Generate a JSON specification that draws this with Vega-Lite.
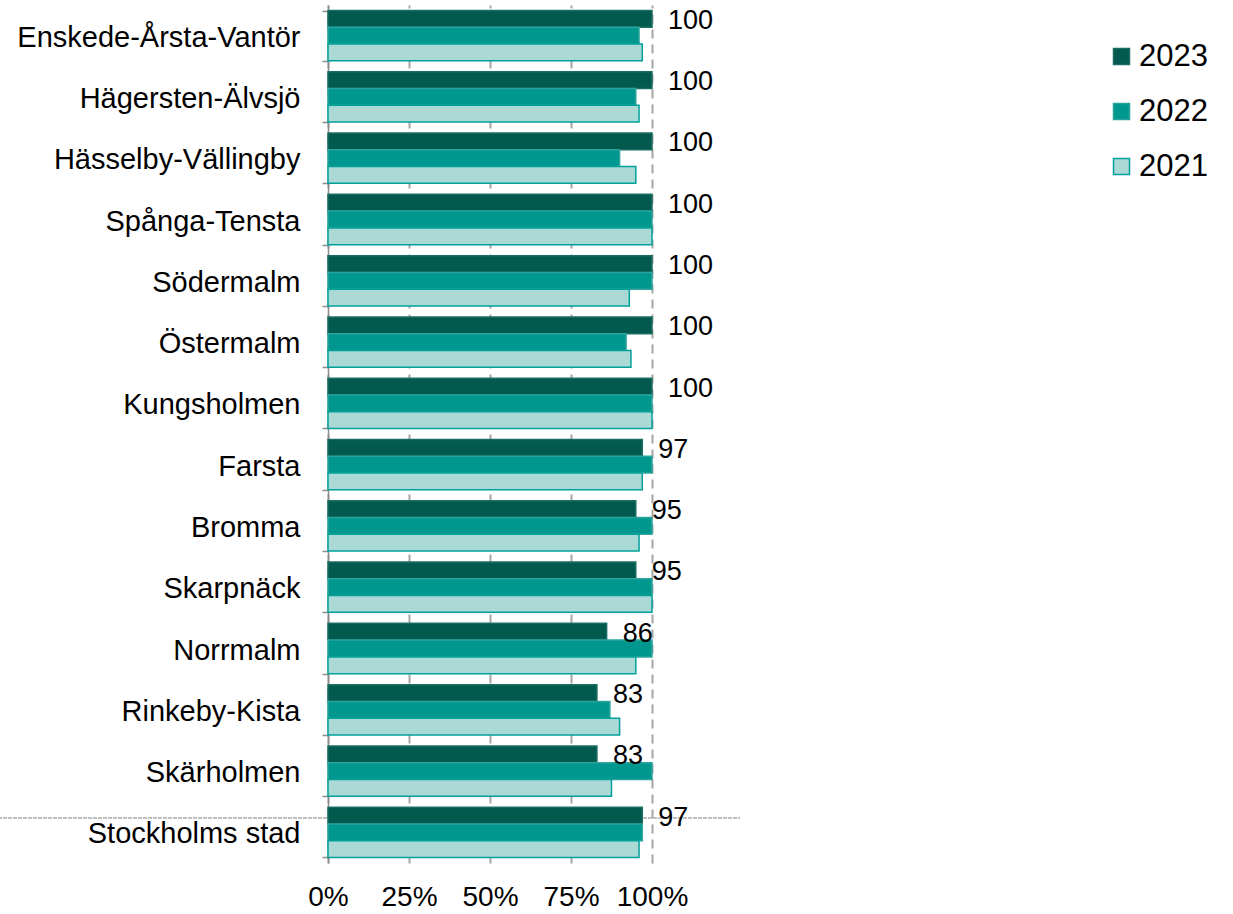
{
  "$schema": "https://vega.github.io/schema/vega-lite/v6.json",
  "autosize": {"type": "none"},
  "padding": {"left": 328, "top": 5, "right": 581, "bottom": 51},
  "width": 324,
  "height": 858,
  "background": "white",
  "config": {
    "view": {"stroke": null},
    "font": "Liberation Sans"
  },
  "data": {
    "values": [
      {"district": "Enskede-Årsta-Vantör", "year": "2023", "value": 100},
      {"district": "Enskede-Årsta-Vantör", "year": "2022", "value": 96},
      {"district": "Enskede-Årsta-Vantör", "year": "2021", "value": 97},
      {"district": "Hägersten-Älvsjö", "year": "2023", "value": 100},
      {"district": "Hägersten-Älvsjö", "year": "2022", "value": 95},
      {"district": "Hägersten-Älvsjö", "year": "2021", "value": 96},
      {"district": "Hässelby-Vällingby", "year": "2023", "value": 100},
      {"district": "Hässelby-Vällingby", "year": "2022", "value": 90},
      {"district": "Hässelby-Vällingby", "year": "2021", "value": 95},
      {"district": "Spånga-Tensta", "year": "2023", "value": 100},
      {"district": "Spånga-Tensta", "year": "2022", "value": 100},
      {"district": "Spånga-Tensta", "year": "2021", "value": 100},
      {"district": "Södermalm", "year": "2023", "value": 100},
      {"district": "Södermalm", "year": "2022", "value": 100},
      {"district": "Södermalm", "year": "2021", "value": 93},
      {"district": "Östermalm", "year": "2023", "value": 100},
      {"district": "Östermalm", "year": "2022", "value": 92},
      {"district": "Östermalm", "year": "2021", "value": 93.5},
      {"district": "Kungsholmen", "year": "2023", "value": 100},
      {"district": "Kungsholmen", "year": "2022", "value": 100},
      {"district": "Kungsholmen", "year": "2021", "value": 100},
      {"district": "Farsta", "year": "2023", "value": 97},
      {"district": "Farsta", "year": "2022", "value": 100},
      {"district": "Farsta", "year": "2021", "value": 97},
      {"district": "Bromma", "year": "2023", "value": 95},
      {"district": "Bromma", "year": "2022", "value": 100},
      {"district": "Bromma", "year": "2021", "value": 96},
      {"district": "Skarpnäck", "year": "2023", "value": 95},
      {"district": "Skarpnäck", "year": "2022", "value": 100},
      {"district": "Skarpnäck", "year": "2021", "value": 100},
      {"district": "Norrmalm", "year": "2023", "value": 86},
      {"district": "Norrmalm", "year": "2022", "value": 100},
      {"district": "Norrmalm", "year": "2021", "value": 95},
      {"district": "Rinkeby-Kista", "year": "2023", "value": 83},
      {"district": "Rinkeby-Kista", "year": "2022", "value": 87},
      {"district": "Rinkeby-Kista", "year": "2021", "value": 90},
      {"district": "Skärholmen", "year": "2023", "value": 83},
      {"district": "Skärholmen", "year": "2022", "value": 100},
      {"district": "Skärholmen", "year": "2021", "value": 87.5},
      {"district": "Stockholms stad", "year": "2023", "value": 97},
      {"district": "Stockholms stad", "year": "2022", "value": 97},
      {"district": "Stockholms stad", "year": "2021", "value": 96}
    ]
  },
  "encoding": {
    "y": {
      "field": "district",
      "type": "nominal",
      "sort": null,
      "title": null,
      "scale": {
        "domain": ["Enskede-Årsta-Vantör", "Hägersten-Älvsjö", "Hässelby-Vällingby", "Spånga-Tensta", "Södermalm", "Östermalm", "Kungsholmen", "Farsta", "Bromma", "Skarpnäck", "Norrmalm", "Rinkeby-Kista", "Skärholmen", "Stockholms stad"],
        "paddingInner": 0.18,
        "paddingOuter": 0.09
      },
      "axis": {
        "tickBand": "extent",
        "tickSize": 6,
        "tickColor": "#8c8c8c",
        "tickWidth": 1.5,
        "domainColor": "#8c8c8c",
        "domainWidth": 1.5,
        "labelFontSize": 29,
        "labelColor": "#000000",
        "labelPadding": 22,
        "labelLimit": 400,
        "labelOffset": 1.5,
        "grid": false
      }
    }
  },
  "layer": [
    {
      "mark": {"type": "rule", "color": "#bdbdbd", "strokeWidth": 1, "strokeDash": [1, 1.5]},
      "encoding": {
        "y": {"datum": "Stockholms stad", "bandPosition": 0.21},
        "x": {"datum": -101, "type": "quantitative"},
        "x2": {"datum": 127}
      }
    },
    {
      "mark": {"type": "bar", "strokeWidth": 1.5},
      "encoding": {
        "x": {
          "field": "value",
          "type": "quantitative",
          "title": null,
          "scale": {"domain": [0, 100], "nice": false, "zero": true},
          "axis": {
            "values": [0, 25, 50, 75, 100],
            "labelExpr": "datum.value + '%'",
            "domain": false,
            "ticks": false,
            "grid": true,
            "gridColor": "#a6a6a6",
            "gridWidth": 2,
            "gridDash": [9, 6],
            "labelFontSize": 28,
            "labelColor": "#000000",
            "labelPadding": 20,
            "labelFlush": false
          }
        },
        "yOffset": {
          "field": "year",
          "type": "nominal",
          "sort": ["2023", "2022", "2021"],
          "scale": {"paddingInner": 0, "paddingOuter": 0}
        },
        "color": {
          "field": "year",
          "type": "nominal",
          "sort": ["2023", "2022", "2021"],
          "scale": {"domain": ["2023", "2022", "2021"], "range": ["#02594e", "#00978f", "#abd9d5"]},
          "legend": {
            "title": null,
            "orient": "none",
            "legendX": 778,
            "legendY": 36,
            "padding": 0,
            "symbolType": "square",
            "symbolSize": 256,
            "symbolStrokeWidth": 1.5,
            "labelFontSize": 31,
            "labelColor": "#000000",
            "labelOffset": 2,
            "rowPadding": 23
          }
        },
        "stroke": {
          "field": "year",
          "type": "nominal",
          "sort": ["2023", "2022", "2021"],
          "scale": {"domain": ["2023", "2022", "2021"], "range": ["#1b6e63", "#2aa49c", "#00a19a"]},
          "legend": {
            "title": null,
            "orient": "none",
            "legendX": 778,
            "legendY": 36,
            "padding": 0,
            "symbolType": "square",
            "symbolSize": 256,
            "symbolStrokeWidth": 1.5,
            "labelFontSize": 31,
            "labelColor": "#000000",
            "labelOffset": 2,
            "rowPadding": 23
          }
        }
      }
    },
    {
      "transform": [{"filter": "datum.year == '2023'"}],
      "mark": {"type": "text", "align": "left", "baseline": "middle", "dx": 16, "dy": 2, "fontSize": 27, "color": "#000000"},
      "encoding": {
        "x": {"field": "value", "type": "quantitative"},
        "yOffset": {"field": "year", "type": "nominal", "sort": ["2023", "2022", "2021"]},
        "text": {"field": "value", "type": "quantitative", "format": "d"}
      }
    }
  ]
}
